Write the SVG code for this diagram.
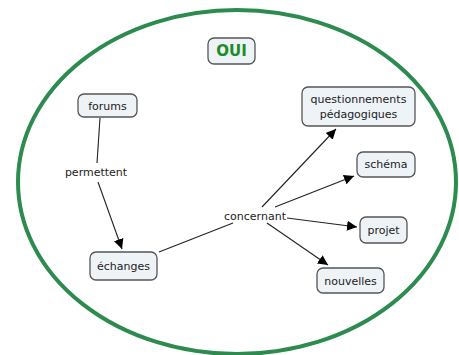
<svg xmlns="http://www.w3.org/2000/svg" width="459" height="355" viewBox="0 0 459 355">
<style>
.n{fill:#eef3f7;stroke:#555;stroke-width:1.3}
.t{font-family:"DejaVu Sans",sans-serif;font-size:11px;fill:#222;text-anchor:middle}
.c{stroke:#222;stroke-width:1.1;fill:none}
</style>
<defs>
<marker id="a" viewBox="0 0 10 10" refX="10" refY="5" markerWidth="10" markerHeight="10" markerUnits="userSpaceOnUse" orient="auto">
<path d="M0,0 L10,5 L0,10 z" fill="#000"/>
</marker>
</defs>
<rect width="459" height="355" fill="#fff"/>
<ellipse cx="237" cy="182" rx="219" ry="172" fill="none" stroke="#2e8b4f" stroke-width="4"/>
<g id="connectors">
<line class="c" x1="100" y1="118" x2="97" y2="163"/>
<line class="c" x1="98" y1="182" x2="122" y2="249" marker-end="url(#a)"/>
<line class="c" x1="159" y1="252" x2="233" y2="223"/>
<line class="c" x1="262" y1="207" x2="336" y2="129" marker-end="url(#a)"/>
<line class="c" x1="275" y1="207" x2="354" y2="176" marker-end="url(#a)"/>
<line class="c" x1="287" y1="218" x2="357" y2="227" marker-end="url(#a)"/>
<line class="c" x1="267" y1="223" x2="328" y2="265" marker-end="url(#a)"/>
</g>
<g id="oui"><rect class="n" x="208" y="38" width="47" height="26" rx="6"/><text x="231.5" y="56" class="t" style="font-weight:bold;font-size:15px;fill:#1e8c26">OUI</text></g>
<g id="forums"><rect class="n" x="78" y="94" width="59" height="23" rx="6"/><text x="107.5" y="109.5" class="t">forums</text></g>
<g id="questionnements"><rect class="n" x="302" y="87" width="113" height="39" rx="6"/><text x="358.5" y="103" class="t">questionnements</text><text x="358.5" y="118" class="t">pédagogiques</text></g>
<g id="schema"><rect class="n" x="357" y="152" width="58" height="25" rx="6"/><text x="386" y="168" class="t">schéma</text></g>
<g id="projet"><rect class="n" x="360" y="217" width="47" height="26" rx="6"/><text x="383.5" y="233.5" class="t">projet</text></g>
<g id="echanges"><rect class="n" x="90" y="252" width="67" height="28" rx="6"/><text x="123.5" y="269.5" class="t">échanges</text></g>
<g id="nouvelles"><rect class="n" x="317" y="268" width="67" height="25" rx="6"/><text x="350.5" y="284.5" class="t">nouvelles</text></g>
<g id="permettent"><text x="96" y="176" class="t">permettent</text></g>
<g id="concernant"><text x="255" y="220" class="t">concernant</text></g>
</svg>
